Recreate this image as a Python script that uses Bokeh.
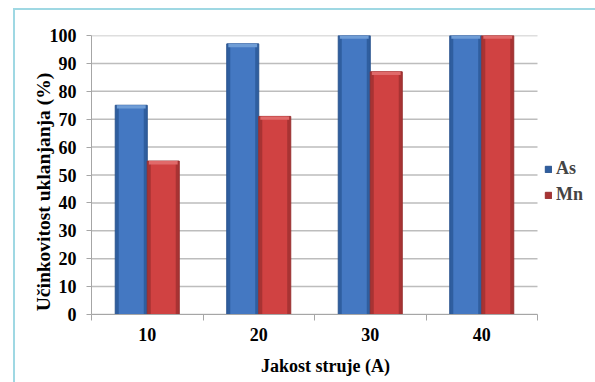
from bokeh.plotting import figure
from bokeh.models import (FixedTicker, Legend, LegendItem, Spacer,
                          Range1d, ColumnDataSource)
from bokeh.layouts import column, row
from bokeh.embed import file_html
from bokeh.resources import INLINE

categories = ["10", "20", "30", "40"]
as_values = [75, 97, 100, 100]
mn_values = [55, 71, 87, 100]
y_ticks = [0, 10, 20, 30, 40, 50, 60, 70, 80, 90, 100]
x_title = "Jakost struje (A)"
y_title = "Učinkovitost uklanjanja (%)"
series_names = ["As", "Mn"]

FONT = "Liberation Serif"
BAR_W = 0.287
BORDER = "#9fd8e3"
CAT_PX = 111.5          # pixels per category
FRAME_PX = 504          # frame width in pixels (legend lives inside on the right)
NBSP = "\u00a0"         # trailing padding to shift centred axis titles

n = len(categories)
pos = [i + 1 for i in range(n)]
x_lo, x_hi = 0.5, n + 0.5

# figure canvas sits at (15, 10) in the window, inside a thin cyan frame
p = figure(width=580, height=372, output_backend="svg", toolbar_location=None,
           x_range=Range1d(x_lo, x_lo + FRAME_PX / CAT_PX), y_range=Range1d(0, 100),
           min_border_left=76, min_border_right=0, min_border_top=25,
           min_border_bottom=68)
p.outline_line_color = None
p.background_fill_color = "white"
p.border_fill_color = "white"

# horizontal gridlines (limited to the category span)
p.segment(x0=x_lo, x1=x_hi, y0=y_ticks, y1=y_ticks, line_color="#bdbdbd", line_width=1.5)

src_as = ColumnDataSource(dict(x=[v - BAR_W / 2 for v in pos], top=as_values))
src_mn = ColumnDataSource(dict(x=[v + BAR_W / 2 for v in pos], top=mn_values))
src_as_hl = ColumnDataSource(dict(x=[v - BAR_W / 2 for v in pos], top=as_values,
                                  bottom=[t - 1.2 for t in as_values]))
src_mn_hl = ColumnDataSource(dict(x=[v + BAR_W / 2 for v in pos], top=mn_values,
                                  bottom=[t - 1.2 for t in mn_values]))

r_as = p.vbar(x="x", top="top", bottom=0, width=BAR_W, source=src_as,
              fill_color="#2f5e9f", line_color="#2a548f", line_width=1)
p.vbar(x="x", top="top", bottom=0, width=BAR_W * 0.78, source=src_as,
       fill_color="#4478c2", line_color=None)
p.vbar(x="x", top="top", bottom="bottom", width=BAR_W * 0.9, source=src_as_hl,
       fill_color="#6f9dd6", line_color=None)

r_mn = p.vbar(x="x", top="top", bottom=0, width=BAR_W, source=src_mn,
              fill_color="#a83333", line_color="#983030", line_width=1)
p.vbar(x="x", top="top", bottom=0, width=BAR_W * 0.78, source=src_mn,
       fill_color="#d04242", line_color=None)
p.vbar(x="x", top="top", bottom="bottom", width=BAR_W * 0.9, source=src_mn_hl,
       fill_color="#e06a6a", line_color=None)

# axes
p.xaxis.bounds = (x_lo, x_hi)
p.xaxis.ticker = FixedTicker(ticks=pos, minor_ticks=[v - 0.5 for v in pos] + [x_hi])
p.xaxis.major_label_overrides = {v: c for v, c in zip(pos, categories)}
p.xaxis.major_tick_line_color = None
p.xaxis.major_tick_out = 6
p.xaxis.major_tick_in = 0
p.xaxis.minor_tick_line_color = "#a6a6a6"
p.xaxis.minor_tick_out = 6
p.xaxis.minor_tick_in = 0
p.xaxis.axis_line_color = "#a6a6a6"
p.xaxis.major_label_standoff = 7
p.xaxis.axis_label = x_title + NBSP * 8
p.xaxis.axis_label_standoff = 12
p.xaxis.axis_label_text_font_size = "18px"

p.yaxis.ticker = FixedTicker(ticks=y_ticks)
p.yaxis.minor_tick_line_color = None
p.yaxis.major_tick_line_color = "#a6a6a6"
p.yaxis.major_tick_out = 5
p.yaxis.major_tick_in = 0
p.yaxis.axis_line_color = "#a6a6a6"
p.yaxis.major_label_standoff = 10
p.yaxis.axis_label = y_title + NBSP * 7
p.yaxis.axis_label_standoff = -7
p.yaxis.axis_label_text_font_size = "19.5px"

for ax in (p.xaxis, p.yaxis):
    ax.major_label_text_font = FONT
    ax.major_label_text_font_style = "bold"
    ax.major_label_text_font_size = "18px"
    ax.major_label_text_color = "black"
    ax.axis_label_text_font = FONT
    ax.axis_label_text_font_style = "bold"
    ax.axis_label_text_color = "black"

p.xgrid.grid_line_color = None
p.ygrid.grid_line_color = None

legend = Legend(items=[LegendItem(label=series_names[0], renderers=[r_as]),
                       LegendItem(label=series_names[1], renderers=[r_mn])],
                location=(453, 109), orientation="vertical",
                label_text_font=FONT, label_text_font_style="bold",
                label_text_font_size="18px", glyph_width=8, glyph_height=8,
                label_height=20, spacing=5, label_standoff=4, padding=0, margin=0,
                border_line_color=None, background_fill_alpha=0)
p.add_layout(legend)

line_style = {"background-color": BORDER}
layout = column(
    Spacer(width=595, height=8),
    row(Spacer(width=13, height=374),
        Spacer(width=2, height=374, styles=line_style),
        column(Spacer(width=580, height=2, styles=line_style), p)),
)

open("out.html", "w").write(file_html(layout, INLINE))
